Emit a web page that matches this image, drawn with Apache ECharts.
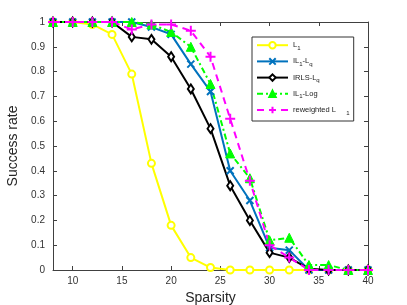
<!DOCTYPE html>
<html><head><meta charset="utf-8">
<script src="https://cdn.jsdelivr.net/npm/echarts@6/dist/echarts.min.js"></script>
<style>html,body{margin:0;padding:0;background:#fff}#c{width:407px;height:305px}</style>
</head><body><div id="c"></div>
<script>
var sparsity = [8,10,12,14,16,18,20,22,24,26,28,30,32,34,36,38,40];
var xTicks = [10,15,20,25,30,35,40];
var L1      = [1,1,0.99,0.95,0.79,0.43,0.18,0.05,0.01,0,0,0,0,0,0,0,0];
var IL1Lq   = [1,1,1,1,1,0.98,0.95,0.83,0.72,0.40,0.28,0.09,0.08,0,0,0,0];
var IRLSLq  = [1,1,1,1,0.94,0.93,0.86,0.73,0.57,0.34,0.20,0.07,0.05,0.005,0,0,0];
var IL1Log  = [1,1,1,1,1,0.99,0.96,0.90,0.75,0.47,0.37,0.12,0.13,0.02,0.02,0,0];
var rwL1    = [1,1,1,1,0.97,0.99,0.99,0.965,0.86,0.61,0.36,0.10,0.05,0,0,0,0];

function pairs(ys){ return sparsity.map(function(x,i){return [x, ys[i]];}); }
var chart = echarts.init(document.getElementById('c'));
var axCol = '#404040';
var labelMap = {
  'L1':'L{s|1}',
  'IL1-Lq':'IL{s|1}-L{s|q}',
  'IRLS-Lq':'IRLS-L{s|q}',
  'IL1-Log':'IL{s|1}-Log',
  'reweighted L1':'reweighted L     {s|1}'
};
chart.setOption({
  animation:false,
  grid:{left:53,right:39,top:22,bottom:35,containLabel:false,outerBoundsMode:'none'},
  xAxis:[{
    type:'value',min:8,max:40,
    name:'Sparsity',nameLocation:'middle',nameGap:20,
    nameTextStyle:{fontSize:14,color:'#262626',fontFamily:'Liberation Sans'},
    axisLine:{onZero:false,lineStyle:{color:axCol,width:1}},
    axisTick:{inside:true,length:4,customValues:xTicks,lineStyle:{color:axCol}},
    axisLabel:{customValues:xTicks,fontSize:10,color:'#333',margin:6,fontFamily:'Liberation Sans'},
    splitLine:{show:false}
  },{
    type:'value',min:8,max:40,position:'top',
    axisLine:{onZero:false,lineStyle:{color:axCol,width:1}},
    axisTick:{inside:true,length:4,customValues:xTicks,lineStyle:{color:axCol}},
    axisLabel:{show:false},splitLine:{show:false}
  }],
  yAxis:[{
    type:'value',min:0,max:1,interval:0.1,
    name:'Success rate',nameLocation:'middle',nameGap:24,
    nameTextStyle:{fontSize:14,color:'#262626',fontFamily:'Liberation Sans'},
    axisLine:{show:true,onZero:false,lineStyle:{color:axCol,width:1}},
    axisTick:{show:true,inside:true,length:4,lineStyle:{color:axCol}},
    axisLabel:{fontSize:10,color:'#333',margin:8,fontFamily:'Liberation Sans',
      formatter:function(v){return String(+v.toFixed(1));}},
    splitLine:{show:false}
  },{
    type:'value',min:0,max:1,interval:0.1,position:'right',
    axisLine:{show:true,onZero:false,lineStyle:{color:axCol,width:1}},
    axisTick:{show:true,inside:true,length:4,lineStyle:{color:axCol}},
    axisLabel:{show:false},splitLine:{show:false}
  }],
  legend:{
    orient:'vertical',left:252,top:37,
    backgroundColor:'#fff',borderColor:'#333',borderWidth:1,
    padding:[4,4,5,4],itemGap:6,itemWidth:31,itemHeight:8,
    textStyle:{fontSize:7.5,color:'#222',fontFamily:'Liberation Sans',
      rich:{s:{fontSize:6,fontFamily:'Liberation Sans',verticalAlign:'bottom',padding:[6,0,0,0]}}},
    formatter:function(n){return labelMap[n];},
    data:['L1','IL1-Lq','IRLS-Lq','IL1-Log','reweighted L1']
  },
  series:[
    {name:'L1',type:'line',data:pairs(L1),symbol:'emptyCircle',symbolSize:7,
      lineStyle:{color:'#ffff00',width:2},itemStyle:{color:'#ffff00',borderColor:'#ffff00',borderWidth:1.5}},
    {name:'IL1-Lq',type:'line',data:pairs(IL1Lq),symbol:'path://M0,0L10,10M10,0L0,10',symbolSize:7,
      lineStyle:{color:'#0072bd',width:2},itemStyle:{color:'#0072bd',borderColor:'#0072bd',borderWidth:2}},
    {name:'IRLS-Lq',type:'line',data:pairs(IRLSLq),symbol:'emptyDiamond',symbolSize:[6,9],
      lineStyle:{color:'#000',width:2},itemStyle:{color:'#000',borderColor:'#000',borderWidth:1.5}},
    {name:'IL1-Log',type:'line',data:pairs(IL1Log),symbol:'triangle',symbolSize:9,
      lineStyle:{color:'#00ff00',width:2,type:[6,3,2,3]},itemStyle:{color:'#00ff00',borderColor:'#00ff00',borderWidth:1}},
    {name:'reweighted L1',type:'line',data:pairs(rwL1),symbol:'path://M5,0L5,10M0,5L10,5',symbolSize:10,
      lineStyle:{color:'#ff00ff',width:2,type:[7,5]},itemStyle:{color:'#ff00ff',borderColor:'#ff00ff',borderWidth:2}}
  ]
});
</script></body></html>
